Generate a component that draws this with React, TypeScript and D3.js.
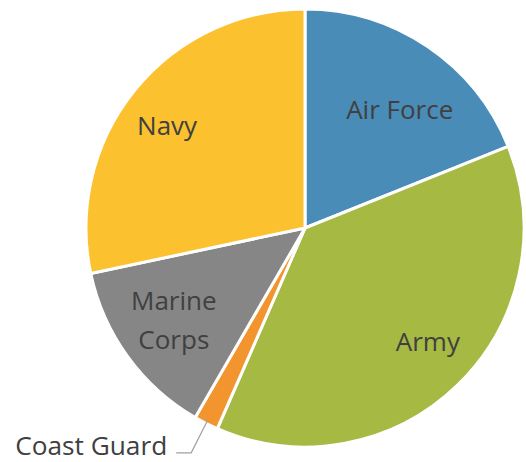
import * as d3 from 'd3';

const WIDTH = 526;
const HEIGHT = 462;

// Share of personnel by branch (percent)
const branches = ['Air Force', 'Army', 'Coast Guard', 'Marine Corps', 'Navy'];
const shares = [18.9, 37.6, 1.8, 13.3, 28.3];
const colors = ['#4a8cb8', '#a6b943', '#f2952e', '#868686', '#fbc12e'];

const CENTER = { x: 305, y: 228 };
const RADIUS = 219;
const FONT_SIZE = 26;

// small hand nudges so the labels sit where Excel's "best fit" put them
const LABEL_NUDGE: Record<string, [number, number]> = {
  'Air Force': [4, 16],
  Army: [10, -2],
  'Marine Corps': [0, -3],
  Navy: [-12, 0],
};

export default function App() {
  const pie = d3
    .pie<number>()
    .sort(null)
    .value((d) => d);
  const slices = pie(shares);

  const arc = d3.arc<d3.PieArcDatum<number>>().innerRadius(0).outerRadius(RADIUS);
  const labelArc = d3
    .arc<d3.PieArcDatum<number>>()
    .innerRadius(RADIUS * 0.74)
    .outerRadius(RADIUS * 0.74);

  // Coast Guard is too thin for an inside label: leader line to the left
  const cg = slices[2];
  const cgMid = (cg.startAngle + cg.endAngle) / 2;
  const edge = d3.pointRadial(cgMid, RADIUS - 4);
  const elbow = d3.pointRadial(cgMid, RADIUS + 33);

  return (
    <svg
      width={WIDTH}
      height={HEIGHT}
      style={{ position: 'absolute', left: 0, top: 0 }}
      fontFamily="'Open Sans', sans-serif"
    >
      <g transform={`translate(${CENTER.x},${CENTER.y})`}>
        {slices.map((s, i) => (
          <path key={branches[i]} d={arc(s) ?? ''} fill={colors[i]} stroke="#fff" strokeWidth={3} />
        ))}
        {slices.map((s, i) => {
          if (i === 2) return null;
          const [cx, cy] = labelArc.centroid(s);
          const [nx, ny] = LABEL_NUDGE[branches[i]] ?? [0, 0];
          const lx = cx + nx;
          const ly = cy + ny;
          const words = branches[i] === 'Marine Corps' ? ['Marine', 'Corps'] : [branches[i]];
          return (
            <text
              key={branches[i]}
              x={lx}
              y={ly}
              textAnchor="middle"
              fontSize={FONT_SIZE}
              fill="#404040"
            >
              {words.map((w, j) => (
                <tspan
                  key={w}
                  x={lx}
                  dy={words.length === 1 ? '0.35em' : j === 0 ? '-0.4em' : '1.5em'}
                >
                  {w}
                </tspan>
              ))}
            </text>
          );
        })}
        <polyline
          points={`${edge[0]},${edge[1]} ${elbow[0]},${elbow[1]} ${elbow[0] - 15},${elbow[1]}`}
          fill="none"
          stroke="#a0a0a0"
          strokeWidth={1.2}
        />
        <text
          x={elbow[0] - 24}
          y={elbow[1] + 2}
          textAnchor="end"
          fontSize={FONT_SIZE}
          textLength={152}
          lengthAdjust="spacingAndGlyphs"
          fill="#404040"
        >
          {branches[2]}
        </text>
      </g>
    </svg>
  );
}
